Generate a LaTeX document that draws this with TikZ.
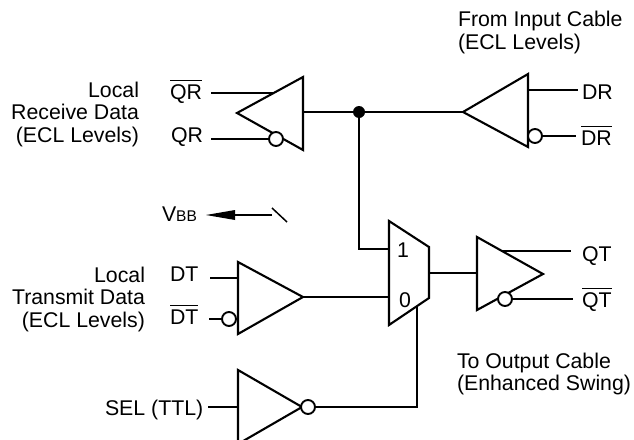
\documentclass[tikz,border=0pt]{standalone}
\usepackage{fontspec}
\setmainfont{Liberation Sans}
\newcommand{\barred}[1]{\vbox{\hrule height 1.4pt\kern 3.2pt\hbox{#1}}}
\tikzset{
  wire/.style={line width=2.1pt,line cap=butt,line join=miter},
  gate/.style={line width=2.1pt,line join=miter},
  bubble/.style={circle,draw,line width=1.9pt,fill=white,minimum size=14pt,inner sep=0pt,outer sep=0pt},
  txt/.style={inner sep=0pt,outer sep=0pt,font=\fontsize{21.3}{23}\selectfont},
  lw/.style={txt,anchor=base west},
  le/.style={txt,anchor=base east},
  dot/.style={circle,fill=black,minimum size=12pt,inner sep=0pt,outer sep=0pt},
}
\begin{document}
\begin{tikzpicture}[x=1pt,y=-1pt]
\useasboundingbox (0,0) rectangle (634,439);
\clip (0,0) rectangle (634,439);
% pins
\coordinate (rxa) at (237,113); \coordinate (rxt) at (303,77); \coordinate (rxb) at (303,150);
\coordinate (rxo) at (303,112);
\coordinate (qrbin) at (211,93); \coordinate (qrbend) at (273,93);
\coordinate (qrin) at (211,139);
\coordinate (dra) at (463,112); \coordinate (drt) at (528,74); \coordinate (drb) at (528,147);
\coordinate (drp) at (528,90); \coordinate (drend) at (578,90); \coordinate (drbend) at (576,136);
\coordinate (muxtl) at (389,221); \coordinate (muxtr) at (429,247); \coordinate (muxbr) at (429,298); \coordinate (muxbl) at (389,325);
\coordinate (mux1) at (389,249); \coordinate (mux0) at (389,297); \coordinate (muxo) at (429,273);
\coordinate (muxs) at (417,306); \coordinate (selc) at (417,407);
\coordinate (c1) at (359,249);
\coordinate (txb) at (477,273); \coordinate (txt) at (477,237); \coordinate (txbb) at (477,310); \coordinate (txa) at (543,274);
\coordinate (qtp) at (502,251); \coordinate (qtend) at (571,251); \coordinate (qtbend) at (573,299);
\coordinate (dta) at (303,297); \coordinate (dtt) at (238,262); \coordinate (dtb) at (238,334);
\coordinate (dtp) at (238,278); \coordinate (dtin) at (210,278); \coordinate (dtbin) at (209,319);
\coordinate (sa) at (302,407); \coordinate (st) at (238,370); \coordinate (sb) at (238,444);
\coordinate (sp) at (238,407); \coordinate (sin) at (208,407);
\coordinate (vtail) at (272,215); \coordinate (vtip) at (206,215); \coordinate (vneck) at (235,215);
\coordinate (vs1) at (272,208); \coordinate (vs2) at (287,222);
% dot
\node[dot] (j) at (359,112) {};
% wires
\draw[wire] (rxo) -- (j.center) -- (dra);
\draw[wire] (j.center) -- (c1) -- (mux1);
\draw[wire] (muxo) -- (txb);
\draw[wire] (dta) -- (mux0);
\draw[wire] (qrbin) -- (qrbend);
\draw[wire] (drp) -- (drend);
\draw[wire] (qtp) -- (qtend);
\draw[wire] (dtin) -- (dtp);
\draw[wire] (sin) -- (sp);
% gates
\draw[gate] (rxa) -- (rxt) -- (rxb) -- cycle;
\draw[gate] (dra) -- (drt) -- (drb) -- cycle;
\draw[gate] (muxtl) -- (muxtr) -- (muxbr) -- (muxbl) -- cycle;
\draw[gate] (txt) -- (txa) -- (txbb) -- cycle;
\draw[gate] (dtt) -- (dta) -- (dtb) -- cycle;
\draw[gate] (st) -- (sa) -- (sb) -- cycle;
% bubbles
\node[bubble] (brx) at (276,139) {};
\node[bubble] (bdr) at (535,136) {};
\node[bubble] (btx) at (505,299) {};
\node[bubble] (bdt) at (229,319) {};
\node[bubble] (bs) at (308,407) {};
\draw[wire] (qrin) -- (brx);
\draw[wire] (bdr) -- (drbend);
\draw[wire] (btx) -- (qtbend);
\draw[wire] (dtbin) -- (bdt);
\draw[wire] (bs) -- (selc) -- (muxs);
% VBB
\draw[line width=1.5pt] (vtail) -- (vneck);
\fill (vtip) -- (235,210) -- (235,220) -- cycle;
\draw[line width=1.5pt] (vs1) -- (vs2);
% labels
\node[le] (l1) at (139,97) {Local};
\node[le] (l2) at (139,119) {Receive Data};
\node[le] (l3) at (139,142) {(ECL Levels)};
\node[lw] (qrb) at (170,99) {\barred{QR}};
\node[lw] (qr) at (171,142) {QR};
\node[le] (l4) at (145,282) {Local};
\node[le] (l5) at (145,304) {Transmit Data};
\node[le] (l6) at (145,327) {(ECL Levels)};
\node[lw] (dt) at (170,281) {DT};
\node[lw] (dtbl) at (170,324) {\barred{DT}};
\node[lw] (sel) at (105,415) {SEL (TTL)};
\node[lw] (f1) at (458,26) {From Input Cable};
\node[lw] (f2) at (458,49) {(ECL Levels)};
\node[lw] (t1) at (457,368) {To Output Cable};
\node[lw] (t2) at (457,390) {(Enhanced Swing)};
\node[lw] (dr) at (582,99) {DR};
\node[lw] (drbl) at (581,145) {\barred{DR}};
\node[lw] (qt) at (582,261) {QT};
\node[lw] (qtbl) at (582,307) {\barred{QT}};
\node[lw] (one) at (397,257) {1};
\node[lw] (zero) at (399,307) {0};
\node[lw] (vb) at (162,221) {V{\fontsize{15.5}{16}\selectfont BB}};
\end{tikzpicture}
\end{document}
